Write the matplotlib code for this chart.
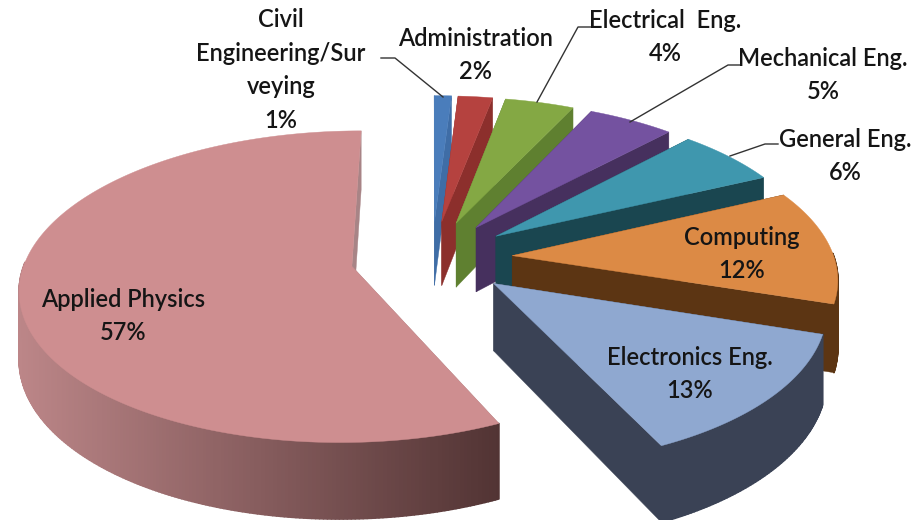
import numpy as np
import matplotlib
matplotlib.use("Agg")
import matplotlib.pyplot as plt
from matplotlib.collections import PolyCollection
from matplotlib.colors import to_rgb

categories = ["Civil\nEngineering/Sur\nveying", "Administration", "Electrical  Eng.", "Mechanical Eng.",
              "General Eng.", "Computing", "Electronics Eng.", "Applied Physics"]
values = [1, 2, 4, 5, 6, 12, 13, 57]
pct_labels = ["1%", "2%", "4%", "5%", "6%", "12%", "13%", "57%"]

top_colors = ["#4A7DBB", "#B5423F", "#84A844", "#7452A0", "#3F97AE", "#DC8A45", "#8FA8D0", "#CE8E90"]
wall_light = ["#4A7DBB", "#96352F", "#5F8030", "#46305E", "#1A4650", "#5C3513", "#3A4255", "#BC8688"]
wall_dark = ["#335F92", "#8C2F2C", "#5B7A2E", "#46305E", "#1A4650", "#5C3513", "#3A4255", "#523434"]
side_colors = ["#3F6DA6", "#8C2F2C", "#5F8030", "#46305E", "#1A4650", "#5C3513", "#3A4255", "#A88486"]
label_xy = [(281, 70), (475, 55), (665, 37), (823, 75), (845, 156), (742, 254), (690, 374), (123, 316)]
leaders = [[(443, 97), (395, 58), (381, 58)], None, [(537, 102), (578, 27), (591, 27)],
           [(630, 122), (728, 65), (740, 65)], [(730, 156), (765, 144), (778, 144)], None, None, None]

CX, CY, RX_L, RX_R, RY, K, DEPTH, EXPLODE = 432, 258, 326, 322, 151, 0.13, 66, 0.25


def project(u, v, z=0.0):
    u = np.asarray(u, dtype=float)
    v = np.asarray(v, dtype=float)
    s = 1 / (1 - K * v)
    return np.column_stack([CX + np.where(u < 0, RX_L, RX_R) * u * s, CY + RY * v * s + DEPTH * z * s])


fig = plt.figure(figsize=(9.22, 5.2), dpi=100)
ax = fig.add_axes([0, 0, 1, 1])
ax.set_xlim(0, 922)
ax.set_ylim(520, 0)
ax.axis("off")

edges = np.cumsum([0] + values) / sum(values) * 2 * np.pi
for i, val in enumerate(values):
    a0, a1 = edges[i], edges[i + 1]
    mid = (a0 + a1) / 2
    ou, ov = EXPLODE * np.sin(mid), -EXPLODE * np.cos(mid)
    t = np.linspace(a0, a1, max(8, int(val * 6)))
    au, av = ou + np.sin(t), ov - np.cos(t)
    z_base = i * 3 + 1
    # radial side faces
    for tt in (a0, a1):
        eu, ev = ou + np.sin(tt), ov - np.cos(tt)
        quad = np.vstack([project([ou], [ov]), project([eu], [ev]),
                          project([eu], [ev], 1), project([ou], [ov], 1)])
        ax.fill(quad[:, 0], quad[:, 1], color=side_colors[i], lw=0.3, zorder=z_base)
    # curved outer wall, front half only, shaded from left to right
    top = project(au, av)
    bot = project(au, av, 1)
    quads, cols = [], []
    c0, c1 = np.array(to_rgb(wall_light[i])), np.array(to_rgb(wall_dark[i]))
    xmin, xmax = top[:, 0].min(), top[:, 0].max()
    for j in range(len(t) - 1):
        if np.cos(t[j]) > 0.02:
            continue
        quads.append([top[j], top[j + 1], bot[j + 1], bot[j]])
        f = (top[j, 0] - xmin) / (xmax - xmin)
        cols.append(c0 + (c1 - c0) * f)
    if quads:
        ax.add_collection(PolyCollection(quads, facecolors=cols, edgecolors=cols, linewidths=1.2, zorder=z_base + 1))
    # top face
    poly = np.vstack([project([ou], [ov]), top])
    ax.fill(poly[:, 0], poly[:, 1], color=top_colors[i], lw=0.3, zorder=z_base + 2)

for i, name in enumerate(categories):
    x, y = label_xy[i]
    ax.text(x, y, name + "\n" + pct_labels[i], ha="center", va="center", family="Lato", fontsize=17,
            weight="semibold", color="#151515", linespacing=1.56, zorder=60)
    if leaders[i]:
        pts = np.array(leaders[i])
        ax.plot(pts[:, 0], pts[:, 1], color="#333333", lw=1.0, zorder=50)

fig.savefig("out.png", dpi=100)
